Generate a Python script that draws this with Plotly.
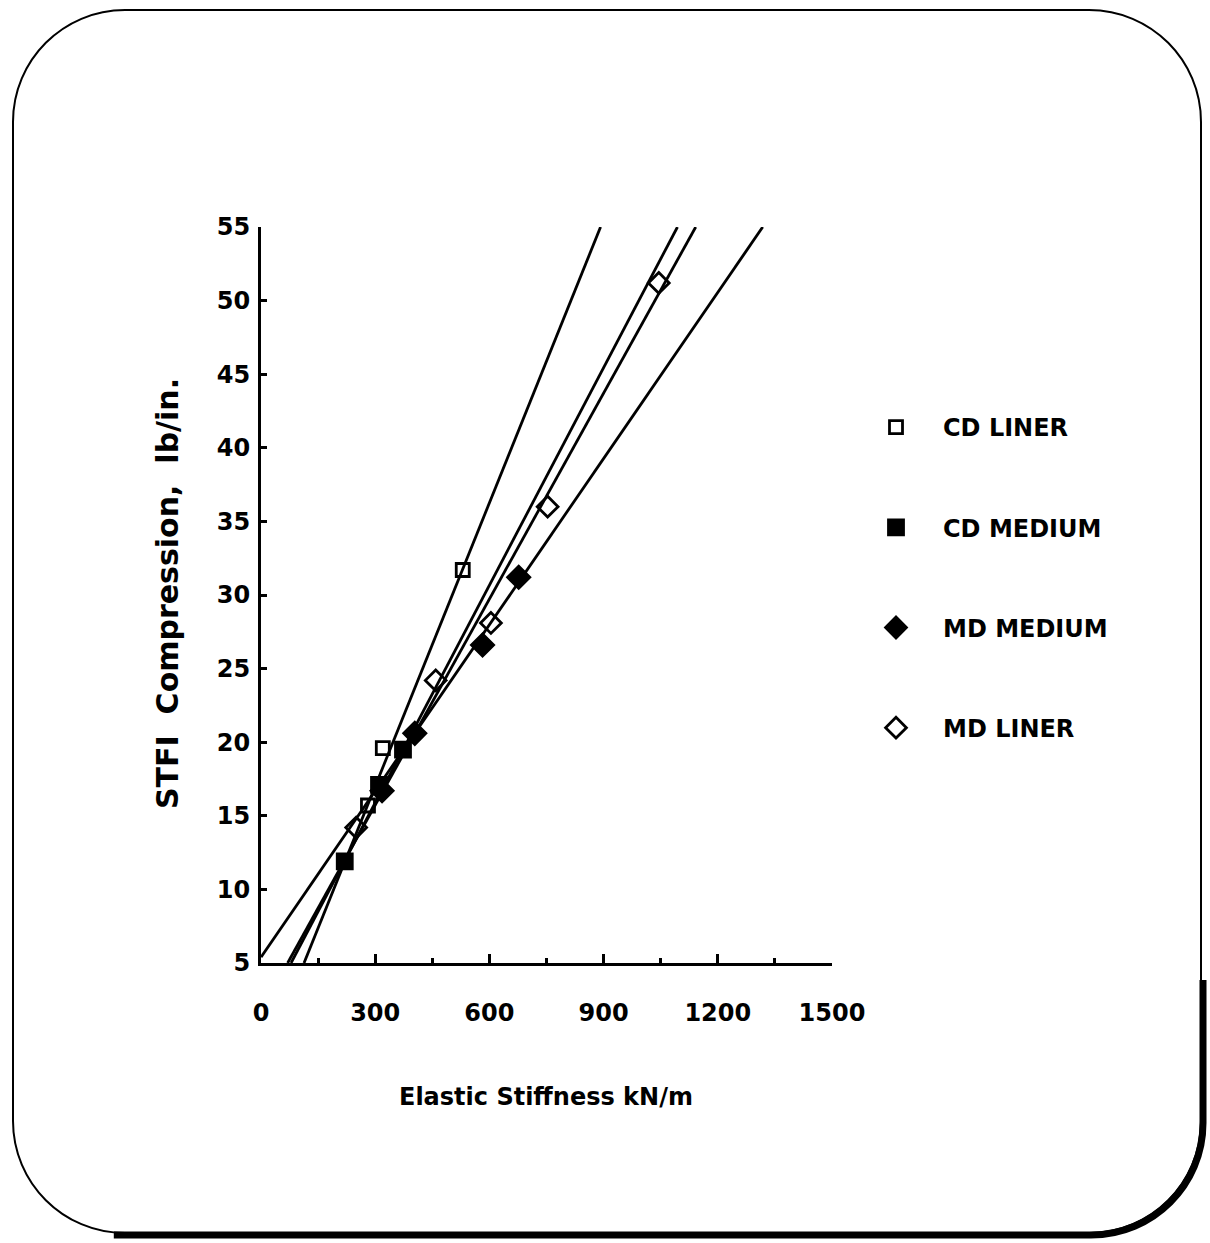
import plotly.graph_objects as go

# ---------------- data ----------------
series_names = ["CD LINER", "CD MEDIUM", "MD MEDIUM", "MD LINER"]

cd_liner_x = [281, 320, 530]
cd_liner_y = [15.7, 19.6, 31.7]

cd_medium_x = [220, 310, 373]
cd_medium_y = [11.9, 17.1, 19.5]

md_medium_x = [318, 404, 582, 677]
md_medium_y = [16.7, 20.6, 26.6, 31.2]

md_liner_x = [250, 459, 604, 753, 1045]
md_liner_y = [14.2, 24.2, 28.1, 36.0, 51.2]

# fitted regression lines (end points)
cd_liner_fit_x = [113, 892]
cd_liner_fit_y = [5, 55]
cd_medium_fit_x = [79, 1094]
cd_medium_fit_y = [5, 55]
md_medium_fit_x = [0, 1318]
md_medium_fit_y = [5.4, 55]
md_liner_fit_x = [70, 1142]
md_liner_fit_y = [5, 55]

x_ticks = [0, 300, 600, 900, 1200, 1500]
x_minor_ticks = [150, 450, 750, 1050, 1350]
y_ticks = [5, 10, 15, 20, 25, 30, 35, 40, 45, 50, 55]

x_title = "Elastic Stiffness kN/m"
y_title = "STFI  Compression,  lb/in."

# ---------------- layout geometry ----------------
W, H = 1210, 1243
L, R, T, B = 261, 832, 227, 963
PW, PH = R - L, B - T


def px(xp):
    return (xp - L) / PW


def py(yp):
    return (B - yp) / PH


FONT = "DejaVu Sans, Verdana, sans-serif"
BLACK = "#000000"

fig = go.Figure()

points = [
    (series_names[0], cd_liner_x, cd_liner_y, "square-open", 13),
    (series_names[1], cd_medium_x, cd_medium_y, "square", 15),
    (series_names[2], md_medium_x, md_medium_y, "diamond", 17),
    (series_names[3], md_liner_x, md_liner_y, "diamond-open", 16),
]
fits = [
    (cd_liner_fit_x, cd_liner_fit_y),
    (cd_medium_fit_x, cd_medium_fit_y),
    (md_medium_fit_x, md_medium_fit_y),
    (md_liner_fit_x, md_liner_fit_y),
]

for (name, xs, ys, sym, sz), (fx, fy) in zip(points, fits):
    fig.add_trace(go.Scatter(
        x=fx, y=fy, mode="lines", line=dict(color=BLACK, width=2.8),
        showlegend=False, legendgroup=name, hoverinfo="skip"))

for name, xs, ys, sym, sz in points:
    fig.add_trace(go.Scatter(
        x=xs, y=ys, mode="markers", name=name, legendgroup=name,
        marker=dict(symbol=sym, size=sz, color=BLACK,
                    line=dict(color=BLACK, width=2.8)),
        cliponaxis=False))

axis_common = dict(
    showgrid=False, zeroline=False, showline=True, linecolor=BLACK, linewidth=3,
    ticks="inside", tickcolor=BLACK, tickwidth=3, mirror=False,
    tickfont=dict(family=FONT, size=24, color=BLACK, weight="bold"),
)

fig.update_xaxes(
    range=[0, 1500], tickvals=x_ticks, ticklen=9, ticklabelstandoff=26,
    minor=dict(tickvals=x_minor_ticks, ticklen=5, tickwidth=3,
               tickcolor=BLACK, ticks="inside"),
    **axis_common)
fig.update_yaxes(range=[5, 55], tickvals=y_ticks, ticklen=6, ticklabelstandoff=3,
                 **axis_common)

# axis titles
fig.add_annotation(text=x_title, xref="paper", yref="paper", x=px(546), y=py(1097),
                   xanchor="center", yanchor="middle", showarrow=False,
                   font=dict(family=FONT, size=24, color=BLACK, weight="bold"))
fig.add_annotation(text=y_title, xref="paper", yref="paper", x=px(167), y=py(594),
                   xanchor="center", yanchor="middle",
                   textangle=-90, showarrow=False,
                   font=dict(family=FONT, size=30, color=BLACK, weight="bold"))


# rounded frame
def rr_path(x0, y0, x1, y1, r):
    k = 0.5523 * r
    pts = []
    pts.append(f"M {px(x0 + r)},{py(y0)}")
    pts.append(f"L {px(x1 - r)},{py(y0)}")
    pts.append(f"C {px(x1 - r + k)},{py(y0)} {px(x1)},{py(y0 + r - k)} {px(x1)},{py(y0 + r)}")
    pts.append(f"L {px(x1)},{py(y1 - r)}")
    pts.append(f"C {px(x1)},{py(y1 - r + k)} {px(x1 - r + k)},{py(y1)} {px(x1 - r)},{py(y1)}")
    pts.append(f"L {px(x0 + r)},{py(y1)}")
    pts.append(f"C {px(x0 + r - k)},{py(y1)} {px(x0)},{py(y1 - r + k)} {px(x0)},{py(y1 - r)}")
    pts.append(f"L {px(x0)},{py(y0 + r)}")
    pts.append(f"C {px(x0)},{py(y0 + r - k)} {px(x0 + r - k)},{py(y0)} {px(x0 + r)},{py(y0)}")
    pts.append("Z")
    return " ".join(pts)


def shadow_path(x0, x1, y1, r, ytop):
    k = 0.5523 * r
    pts = [f"M {px(x0 + r * 0.9)},{py(y1)}",
           f"L {px(x1 - r)},{py(y1)}",
           f"C {px(x1 - r + k)},{py(y1)} {px(x1)},{py(y1 - r + k)} {px(x1)},{py(y1 - r)}",
           f"L {px(x1)},{py(ytop)}"]
    return " ".join(pts)


fig.add_shape(type="path", xref="paper", yref="paper",
              path=rr_path(13, 10, 1201, 1233, 112),
              line=dict(color=BLACK, width=2), layer="below")
fig.add_shape(type="path", xref="paper", yref="paper",
              path=shadow_path(13, 1203, 1235, 112, 980),
              line=dict(color=BLACK, width=7), layer="below")

fig.update_layout(
    width=W, height=H,
    margin=dict(l=L, r=W - R, t=T, b=H - B, autoexpand=False),
    paper_bgcolor="white", plot_bgcolor="white",
    font=dict(family=FONT, color=BLACK),
    showlegend=True,
    legend=dict(x=px(849), y=py(405), xanchor="left", yanchor="top",
                bgcolor="rgba(0,0,0,0)", borderwidth=0,
                font=dict(family=FONT, size=24, color=BLACK, weight="bold"),
                itemwidth=84, tracegroupgap=66, traceorder="grouped",
                itemsizing="trace"),
)

fig.write_html("out.html")
